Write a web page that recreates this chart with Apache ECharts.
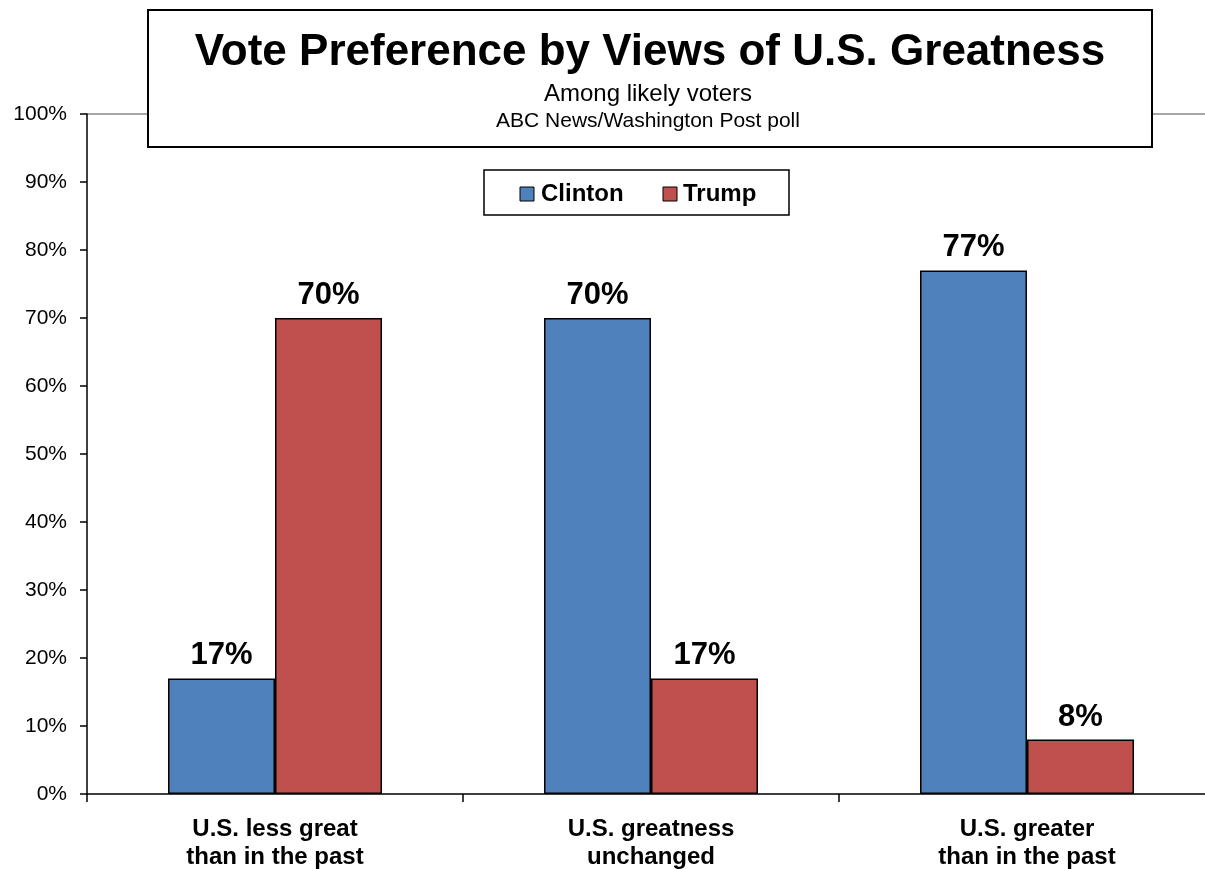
<!DOCTYPE html>
<html><head><meta charset="utf-8">
<script src="https://cdn.jsdelivr.net/npm/echarts@6/dist/echarts.min.js"></script>
<style>html,body{margin:0;padding:0;background:#fff}#c{width:1205px;height:869px}</style>
</head><body><div id="c"></div>
<script>
const categories = ['U.S. less great\nthan in the past', 'U.S. greatness\nunchanged', 'U.S. greater\nthan in the past'];
const clinton = [17, 70, 77];
const trump = [70, 17, 8];
const yTicks = [0, 10, 20, 30, 40, 50, 60, 70, 80, 90, 100];
const titleText = 'Vote Preference by Views of U.S. Greatness';
const subText1 = 'Among likely voters';
const subText2 = 'ABC News/Washington Post poll';

const chart = echarts.init(document.getElementById('c'));
const F = 'Liberation Sans, Arial, sans-serif';
const splitColors = yTicks.map((v, i) => i === yTicks.length - 1 ? '#888888' : 'rgba(0,0,0,0)');
const dataLabel = { show: true, position: 'top', distance: 7, color: '#000', fontFamily: F, fontWeight: 'bold', fontSize: 31, formatter: p => p.value + '%' };
chart.setOption({
  animation: false,
  backgroundColor: '#fff',
  textStyle: { fontFamily: F },
  grid: { left: 87, top: 114, width: 1128, height: 680, containLabel: false, outerBoundsMode: 'none' },
  legend: { show: false },
  xAxis: {
    type: 'category', data: categories,
    axisLine: { lineStyle: { color: '#000', width: 1.5 } },
    axisTick: { show: true, length: 8, lineStyle: { color: '#000', width: 1.5 } },
    axisLabel: { color: '#000', fontFamily: F, fontWeight: 'bold', fontSize: 24, lineHeight: 28, margin: 21 }
  },
  yAxis: {
    type: 'value', min: 0, max: 100, interval: 10,
    axisLine: { show: true, lineStyle: { color: '#000', width: 1.5 } },
    axisTick: { show: true, length: 7, lineStyle: { color: '#000', width: 1.5 } },
    axisLabel: { color: '#000', fontFamily: F, fontSize: 21, margin: 20, formatter: v => v + '%' },
    splitLine: { show: true, lineStyle: { color: splitColors, width: 1.5 } }
  },
  series: [
    { name: 'Clinton', type: 'bar', data: clinton, barWidth: 107, barGap: '0%',
      itemStyle: { color: '#4F81BD', borderColor: '#000', borderWidth: 1.5 }, label: dataLabel },
    { name: 'Trump', type: 'bar', data: trump, barWidth: 107, barGap: '0%',
      itemStyle: { color: '#C0504D', borderColor: '#000', borderWidth: 1.5 }, label: dataLabel }
  ],
  graphic: [
    { type: 'rect', shape: { x: 148, y: 10, width: 1004, height: 137 }, style: { fill: '#fff', stroke: '#000', lineWidth: 2 }, z: 100 },
    { type: 'text', x: 650, y: 53, z: 101, style: { text: titleText, font: 'bold 44px ' + F, fill: '#000', textAlign: 'center', textVerticalAlign: 'middle' } },
    { type: 'text', x: 648, y: 94, z: 101, style: { text: subText1, font: '24px ' + F, fill: '#000', textAlign: 'center', textVerticalAlign: 'middle' } },
    { type: 'text', x: 648, y: 121, z: 101, style: { text: subText2, font: '21px ' + F, fill: '#000', textAlign: 'center', textVerticalAlign: 'middle' } },
    { type: 'rect', shape: { x: 484, y: 170, width: 305, height: 45 }, style: { fill: '#fff', stroke: '#000', lineWidth: 1.5 }, z: 100 },
    { type: 'rect', shape: { x: 520, y: 187, width: 14, height: 14 }, style: { fill: '#4F81BD', stroke: '#000', lineWidth: 1 }, z: 101 },
    { type: 'text', x: 541, y: 194, z: 101, style: { text: 'Clinton', font: 'bold 24px ' + F, fill: '#000', textAlign: 'left', textVerticalAlign: 'middle' } },
    { type: 'rect', shape: { x: 663, y: 187, width: 14, height: 14 }, style: { fill: '#C0504D', stroke: '#000', lineWidth: 1 }, z: 101 },
    { type: 'text', x: 683, y: 194, z: 101, style: { text: 'Trump', font: 'bold 24px ' + F, fill: '#000', textAlign: 'left', textVerticalAlign: 'middle' } }
  ]
});
</script></body></html>
